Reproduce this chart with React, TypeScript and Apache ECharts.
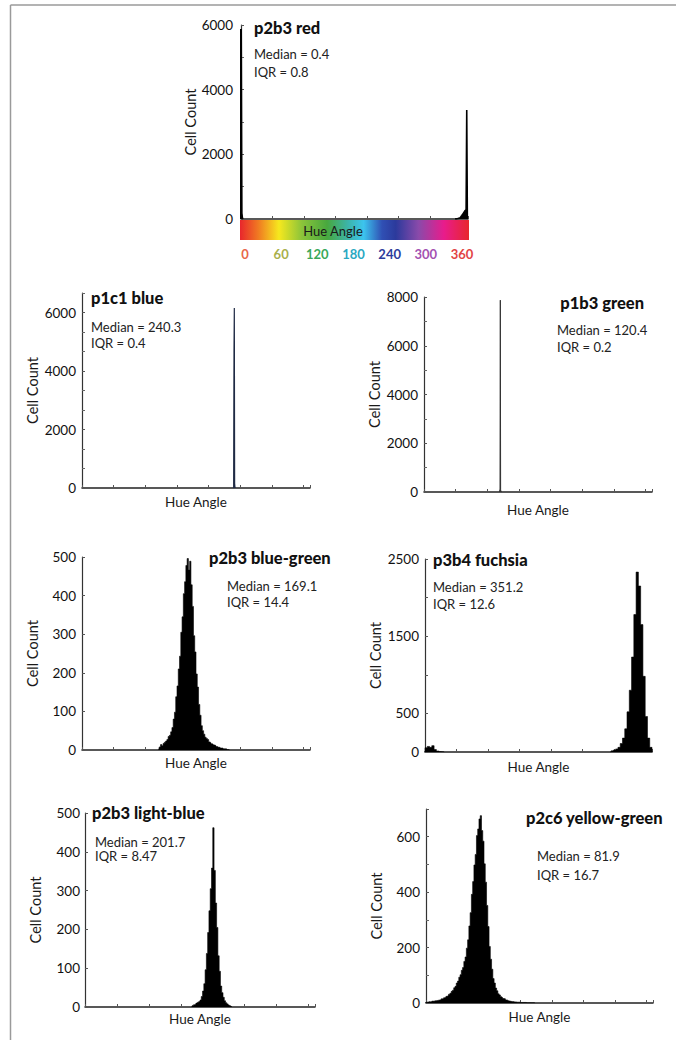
import React, { useEffect, useRef } from "react";
import * as echarts from "echarts";

const FONT = "Lato, 'Open Sans', sans-serif";

// ---------- data (histogram bins: start angle, bin width, counts) ----------
const redLeftStart = 0;
const redLeftBin = 1;
const redLeftCounts = [5880, 180, 30];
const redRightStart = 340;
const redRightBin = 1;
const redRightCounts = [5, 8, 10, 14, 18, 25, 32, 45, 60, 80, 100, 130, 160, 190, 220, 250, 270, 290, 3370];

const blueStart = 239;
const blueBin = 0.5;
const blueCounts = [20, 120, 4650, 6150, 150, 30];

const greenStart = 119;
const greenBin = 0.5;
const greenCounts = [15, 40, 120, 7870, 90, 25, 10];

const blueGreenStart = 122;
const blueGreenBin = 2;
const blueGreenCounts = [8, 14, 11, 17, 20, 23, 27, 35, 38, 47, 58, 80, 98, 138, 166, 210, 243, 305, 345, 405, 436, 478, 496, 466, 489, 428, 372, 296, 254, 197, 163, 118, 90, 63, 50, 41, 33, 30, 27, 21, 20, 16, 15, 13, 12, 9, 8, 7, 5, 5, 4, 3, 3, 2, 1];

const fuchsiaLowStart = 0;
const fuchsiaHighStart = 295.2;
const fuchsiaBin = 3.6;
const fuchsiaLowCounts = [55, 72, 60, 82, 32, 12, 6, 4];
const fuchsiaHighCounts = [15, 25, 40, 60, 110, 180, 300, 520, 800, 1230, 1780, 2330, 2150, 1650, 980, 460, 180, 60];

const lightBlueStart = 168;
const lightBlueBin = 2;
const lightBlueCounts = [4, 6, 7, 10, 12, 14, 18, 27, 41, 60, 96, 138, 192, 248, 305, 358, 462, 352, 268, 205, 132, 92, 54, 37, 25, 16, 11, 8, 5, 3, 2];

const yellowGreenStart = 0;
const yellowGreenBin = 2;
const yellowGreenCounts = [3, 4, 5, 4, 6, 7, 6, 8, 9, 10, 11, 12, 15, 16, 19, 21, 24, 26, 32, 35, 42, 46, 55, 60, 72, 79, 93, 102, 118, 128, 150, 166, 198, 228, 278, 326, 392, 438, 498, 536, 604, 628, 664, 676, 622, 584, 502, 436, 352, 276, 204, 158, 122, 88, 72, 54, 44, 33, 29, 23, 21, 16, 15, 11, 10, 8, 7, 6, 5, 5, 4, 4, 3, 3, 3, 2, 2, 2, 2, 2, 1, 1, 1, 1, 1, 1];

// ---------- labels ----------
const panelTitles = ["p2b3 red", "p1c1 blue", "p1b3 green", "p2b3 blue-green", "p3b4 fuchsia", "p2b3 light-blue", "p2c6 yellow-green"];
const panelMedians = ["Median = 0.4", "Median = 240.3", "Median = 120.4", "Median = 169.1", "Median = 351.2", "Median = 201.7", "Median = 81.9"];
const panelIqrs = ["IQR = 0.8", "IQR = 0.4", "IQR = 0.2", "IQR = 14.4", "IQR = 12.6", "IQR = 8.47", "IQR = 16.7"];
const yLabelSets = [
  [0, 2000, 4000, 6000],
  [0, 2000, 4000, 6000],
  [0, 2000, 4000, 6000, 8000],
  [0, 100, 200, 300, 400, 500],
  [0, 500, 1500, 2500],
  [0, 100, 200, 300, 400, 500],
  [0, 200, 400, 600],
];
const hueTicks = [0, 60, 120, 180, 240, 300, 360];
const hueTickColors = ["#e8684a", "#a9b04c", "#3aa85a", "#2aa8c2", "#2c3c9c", "#a452b2", "#e24444"];
const xAxisName = "Hue Angle";
const yAxisName = "Cell Count";

// ---------- layout ----------
const panels = [
  { left: 241, top: 25, width: 227, height: 194, max: 6000, interval: 2000, minor: 2, nameGap: 7, labelMargin: 8,
    title: { x: 254, y: 28, align: "left" }, med: { x: 254, y: 54 }, iqr: { x: 254, y: 72 } },
  { left: 82, top: 293, width: 228, height: 195, max: 6667, interval: 2000, minor: 3, nameGap: 7, labelMargin: 6,
    title: { x: 91, y: 298, align: "left" }, med: { x: 91, y: 327 }, iqr: { x: 91, y: 343 } },
  { left: 424, top: 297, width: 228, height: 195, max: 8000, interval: 2000, minor: 2, nameGap: 11, labelMargin: 6,
    title: { x: 644, y: 303, align: "right" }, med: { x: 557, y: 330 }, iqr: { x: 557, y: 347 } },
  { left: 82, top: 557, width: 228, height: 193, max: 500, interval: 100, minor: 0, nameGap: 6, labelMargin: 6,
    title: { x: 209, y: 558, align: "left" }, med: { x: 227, y: 586 }, iqr: { x: 227, y: 602 } },
  { left: 425, top: 559, width: 227, height: 193, max: 2500, interval: 500, minor: 0, nameGap: 8, labelMargin: 6,
    title: { x: 433, y: 560, align: "left" }, med: { x: 433, y: 587 }, iqr: { x: 433, y: 604 } },
  { left: 85, top: 813, width: 230, height: 194, max: 500, interval: 100, minor: 0, nameGap: 5, labelMargin: 5,
    title: { x: 92, y: 813, align: "left" }, med: { x: 95, y: 842 }, iqr: { x: 95, y: 856 } },
  { left: 426, top: 809, width: 227, height: 194, max: 700, interval: 200, minor: 2, nameGap: 7, labelMargin: 6,
    title: { x: 526, y: 818, align: "left" }, med: { x: 537, y: 856 }, iqr: { x: 537, y: 875 } },
];

function bins(start: number, bin: number, counts: number[]) {
  const pts: number[][] = [[start - bin * 0.5, 0]];
  counts.forEach((c, i) => pts.push([start + (i + 0.5) * bin, c]));
  pts.push([start + (counts.length + 0.5) * bin, 0]);
  return pts;
}

function histSeries(idx: number, data: number[][], color: string, width: number) {
  return {
    type: "line",
    xAxisIndex: idx,
    yAxisIndex: idx,
    data,
    step: "middle",
    symbol: "none",
    silent: true,
    lineStyle: { color, width },
    itemStyle: { color },
    areaStyle: { color, opacity: 1 },
  };
}

export default function App() {
  const ref = useRef<HTMLDivElement>(null);
  useEffect(() => {
    document.body.style.margin = "0";
    const chart = echarts.init(ref.current!, null, { renderer: "svg" });

    const grids: any[] = panels.map((p) => ({ left: p.left, top: p.top, width: p.width, height: p.height }));
    // colour-bar label grid
    grids.push({ left: 245, top: 219, width: 217, height: 22 });

    const xAxes: any[] = panels.map((p, i) => ({
      type: "value",
      gridIndex: i,
      min: 0,
      max: 360,
      interval: 50,
      name: i === 0 ? "" : xAxisName,
      nameLocation: "middle",
      nameGap: p.nameGap,
      nameTextStyle: { fontFamily: FONT, fontSize: 13.5, color: "#1a1a1a" },
      axisLine: { show: true, onZero: false, lineStyle: { color: "#222", width: 1.5 } },
      axisTick: { show: true, inside: true, length: 3, lineStyle: { color: "#555", width: 1 } },
      axisLabel: { show: false },
      splitLine: { show: false },
    }));
    xAxes.push({
      type: "value",
      gridIndex: 7,
      min: 0,
      max: 360,
      interval: 60,
      axisLine: { show: false },
      axisTick: { show: false },
      splitLine: { show: false },
      axisLabel: {
        show: true,
        margin: 6,
        fontFamily: FONT,
        fontSize: 13,
        fontWeight: "bold",
        color: (v: any) => hueTickColors[hueTicks.indexOf(Number(v))] || "#333",
        formatter: (v: number) => (hueTicks.includes(v) ? String(v) : ""),
      },
    });

    const yAxes: any[] = panels.map((p, i) => ({
      type: "value",
      gridIndex: i,
      min: 0,
      max: p.max,
      interval: p.interval,
      name: yAxisName,
      nameLocation: "middle",
      nameGap: 42,
      nameRotate: 90,
      nameTextStyle: { fontFamily: FONT, fontSize: 14.5, color: "#1a1a1a" },
      axisLine: { show: true, lineStyle: { color: "#333", width: 1.2 } },
      axisTick: { show: true, inside: true, length: 3, lineStyle: { color: "#555", width: 1 } },
      minorTick: { show: p.minor > 0, splitNumber: p.minor || 2, length: 3, lineStyle: { color: "#666", width: 1 } },
      axisLabel: {
        show: true,
        margin: p.labelMargin,
        fontFamily: FONT,
        fontSize: 13.5,
        color: "#111",
        formatter: (v: number) => (yLabelSets[i].includes(v) ? String(v) : ""),
      },
      splitLine: { show: false },
    }));
    yAxes.push({ type: "value", gridIndex: 7, show: false, min: 0, max: 1 });

    const series: any[] = [
      histSeries(0, bins(redLeftStart, redLeftBin, redLeftCounts), "#000", 2),
      histSeries(0, bins(redRightStart, redRightBin, redRightCounts), "#000", 1.6),
      histSeries(1, bins(blueStart, blueBin, blueCounts), "#1f2a44", 1.2),
      histSeries(2, bins(greenStart, greenBin, greenCounts), "#333", 1),
      histSeries(3, bins(blueGreenStart, blueGreenBin, blueGreenCounts), "#000", 0.6),
      histSeries(4, bins(fuchsiaLowStart, fuchsiaBin, fuchsiaLowCounts), "#000", 0.6),
      histSeries(4, bins(fuchsiaHighStart, fuchsiaBin, fuchsiaHighCounts), "#000", 0.6),
      histSeries(5, bins(lightBlueStart, lightBlueBin, lightBlueCounts), "#000", 0.6),
      histSeries(6, bins(yellowGreenStart, yellowGreenBin, yellowGreenCounts), "#000", 0.6),
    ];

    const gradient = new echarts.graphic.LinearGradient(0, 0, 1, 0, [
      { offset: 0, color: "#e8262c" },
      { offset: 0.08, color: "#f07a22" },
      { offset: 0.17, color: "#f6e81e" },
      { offset: 0.27, color: "#8cc43a" },
      { offset: 0.38, color: "#48a83e" },
      { offset: 0.47, color: "#3cb4a8" },
      { offset: 0.54, color: "#3cc4ee" },
      { offset: 0.62, color: "#3050b4" },
      { offset: 0.68, color: "#2c3a9c" },
      { offset: 0.78, color: "#8a4aaa" },
      { offset: 0.89, color: "#e81c8c" },
      { offset: 1, color: "#e8262c" },
    ]);

    const texts: any[] = [];
    panels.forEach((p, i) => {
      texts.push({
        type: "text",
        x: p.title.x,
        y: p.title.y,
        style: { text: panelTitles[i], fontFamily: FONT, fontSize: 16.5, fontWeight: 900, fill: "#111", align: p.title.align, verticalAlign: "middle" },
      });
      texts.push({
        type: "text",
        x: p.med.x,
        y: p.med.y,
        style: { text: panelMedians[i], fontFamily: FONT, fontSize: 13, fill: "#222", align: "left", verticalAlign: "middle" },
      });
      texts.push({
        type: "text",
        x: p.iqr.x,
        y: p.iqr.y,
        style: { text: panelIqrs[i], fontFamily: FONT, fontSize: 13, fill: "#222", align: "left", verticalAlign: "middle" },
      });
    });

    chart.setOption({
      animation: false,
      backgroundColor: "#fff",
      grid: grids,
      xAxis: xAxes,
      yAxis: yAxes,
      series,
      graphic: [
        { type: "line", shape: { x1: 10.5, y1: 5, x2: 676, y2: 5 }, style: { stroke: "#9a9a9a", lineWidth: 1.5 } },
        { type: "line", shape: { x1: 10.5, y1: 5, x2: 10.5, y2: 1040 }, style: { stroke: "#9a9a9a", lineWidth: 1.5 } },
        { type: "rect", shape: { x: 240, y: 220, width: 229, height: 20 }, style: { fill: gradient } },
        {
          type: "text",
          x: 333,
          y: 231,
          style: { text: xAxisName, fontFamily: FONT, fontSize: 13, fill: "#1a1a1a", align: "center", verticalAlign: "middle" },
        },
        ...texts,
      ],
    });
    return () => chart.dispose();
  }, []);
  return <div ref={ref} style={{ width: 676, height: 1040, background: "#fff" }} />;
}
